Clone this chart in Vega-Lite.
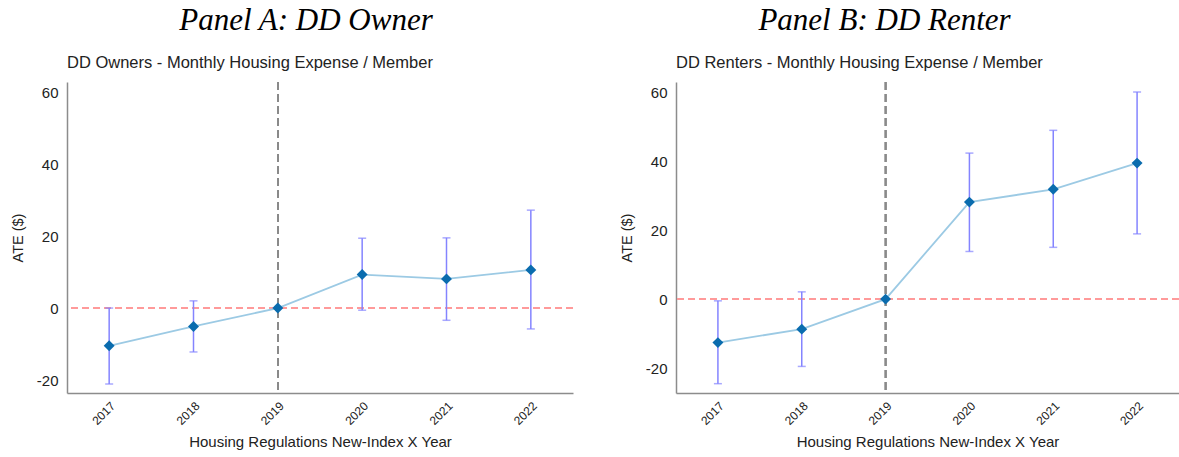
{
  "$schema": "https://vega.github.io/schema/vega-lite/v6.json",
  "background": "white",
  "padding": {"left": 10, "top": 4, "right": 0, "bottom": 0},
  "spacing": 45,
  "config": {
    "view": {"stroke": null},
    "font": "Liberation Sans",
    "axis": {"grid": false, "ticks": false, "tickSize": 0, "domainColor": "#8c8c8c", "domainWidth": 1.5, "labelColor": "#222", "titleColor": "#222", "titleFontWeight": "normal", "labelFont": "Liberation Sans", "titleFont": "Liberation Sans"}
  },
  "datasets": {
    "est": [
      {"panel": "A", "year": "2017", "ate": -10.5, "lo": -21.1, "hi": 0.0},
      {"panel": "A", "year": "2018", "ate": -5.1, "lo": -12.2, "hi": 2.0},
      {"panel": "A", "year": "2019", "ate": 0, "lo": null, "hi": null},
      {"panel": "A", "year": "2020", "ate": 9.3, "lo": -0.6, "hi": 19.4},
      {"panel": "A", "year": "2021", "ate": 8.1, "lo": -3.4, "hi": 19.5},
      {"panel": "A", "year": "2022", "ate": 10.6, "lo": -5.8, "hi": 27.2},
      {"panel": "B", "year": "2017", "ate": -12.6, "lo": -24.5, "hi": -0.5},
      {"panel": "B", "year": "2018", "ate": -8.7, "lo": -19.5, "hi": 2.1},
      {"panel": "B", "year": "2019", "ate": 0, "lo": null, "hi": null},
      {"panel": "B", "year": "2020", "ate": 28.1, "lo": 13.8, "hi": 42.3},
      {"panel": "B", "year": "2021", "ate": 31.8, "lo": 15.0, "hi": 48.9},
      {"panel": "B", "year": "2022", "ate": 39.4, "lo": 18.9, "hi": 60.0}
    ]
  },
  "data": {"name": "est"},
  "hconcat": [
    {
      "title": {"text": "Panel A: DD Owner", "font": "Liberation Serif", "fontStyle": "italic", "fontWeight": "normal", "fontSize": 31, "color": "#000", "anchor": "middle", "offset": 18, "dx": 14},
      "vconcat": [
        {
          "title": {"text": "DD Owners - Monthly Housing Expense / Member", "anchor": "start", "frame": "group", "fontSize": 16.5, "fontWeight": "normal", "color": "#222", "offset": 10},
          "width": 506,
          "height": 311,
          "transform": [{"filter": "datum.panel == 'A'"}],
          "layer": [
            {"mark": {"type": "rule", "color": "#8a8a8a", "strokeWidth": 1.5, "strokeDash": [8, 4]}, "encoding": {"x": {"datum": "2019", "type": "ordinal", "scale": {"type": "point", "padding": 0.5}, "axis": {"title": "Housing Regulations New-Index X Year", "labelAngle": -45, "labelFontSize": 12, "labelPadding": 7, "titleFontSize": 15, "titlePadding": 8}}}},
            {"mark": {"type": "rule", "color": "#ff9a9a", "strokeWidth": 1.5, "strokeDash": [7, 4]}, "encoding": {"y": {"datum": 0, "type": "quantitative"}}},
            {"mark": {"type": "rule", "color": "#8484ff", "strokeWidth": 1.5}, "encoding": {"x": {"field": "year", "type": "ordinal"}, "y": {"field": "lo", "type": "quantitative"}, "y2": {"field": "hi"}}},
            {"mark": {"type": "tick", "color": "#8484ff", "size": 8, "thickness": 1.5}, "encoding": {"x": {"field": "year", "type": "ordinal"}, "y": {"field": "lo", "type": "quantitative"}}},
            {"mark": {"type": "tick", "color": "#8484ff", "size": 8, "thickness": 1.5}, "encoding": {"x": {"field": "year", "type": "ordinal"}, "y": {"field": "hi", "type": "quantitative"}}},
            {"mark": {"type": "line", "color": "#9ccae4", "strokeWidth": 1.8}, "encoding": {"x": {"field": "year", "type": "ordinal"}, "y": {"field": "ate", "type": "quantitative"}}},
            {"mark": {"type": "point", "shape": "diamond", "filled": true, "color": "#0a6cae", "opacity": 1, "size": 120}, "encoding": {"x": {"field": "year", "type": "ordinal"}, "y": {"field": "ate", "type": "quantitative", "scale": {"domain": [-23.6, 62.8], "nice": false, "zero": false}, "axis": {"title": "ATE ($)", "values": [-20, 0, 20, 40, 60], "labelExpr": "'' + datum.value", "labelFontSize": 15, "labelPadding": 9, "titleFontSize": 14.5, "titlePadding": 11}}}}
          ]
        }
      ]
    },
    {
      "title": {"text": "Panel B: DD Renter", "font": "Liberation Serif", "fontStyle": "italic", "fontWeight": "normal", "fontSize": 31, "color": "#000", "anchor": "middle", "offset": 18, "dx": -15},
      "vconcat": [
        {
          "title": {"text": "DD Renters - Monthly Housing Expense / Member", "anchor": "start", "frame": "group", "fontSize": 16.5, "fontWeight": "normal", "color": "#222", "offset": 10},
          "width": 503,
          "height": 311,
          "transform": [{"filter": "datum.panel == 'B'"}],
          "layer": [
            {"mark": {"type": "rule", "color": "#8a8a8a", "strokeWidth": 1.5, "strokeDash": [8, 4]}, "encoding": {"x": {"datum": "2019", "type": "ordinal", "scale": {"type": "point", "padding": 0.5}, "axis": {"title": "Housing Regulations New-Index X Year", "labelAngle": -45, "labelFontSize": 12, "labelPadding": 7, "titleFontSize": 15, "titlePadding": 8}}}},
            {"mark": {"type": "rule", "color": "#ff9a9a", "strokeWidth": 1.5, "strokeDash": [7, 4]}, "encoding": {"y": {"datum": 0, "type": "quantitative"}}},
            {"mark": {"type": "rule", "color": "#8484ff", "strokeWidth": 1.5}, "encoding": {"x": {"field": "year", "type": "ordinal"}, "y": {"field": "lo", "type": "quantitative"}, "y2": {"field": "hi"}}},
            {"mark": {"type": "tick", "color": "#8484ff", "size": 8, "thickness": 1.5}, "encoding": {"x": {"field": "year", "type": "ordinal"}, "y": {"field": "lo", "type": "quantitative"}}},
            {"mark": {"type": "tick", "color": "#8484ff", "size": 8, "thickness": 1.5}, "encoding": {"x": {"field": "year", "type": "ordinal"}, "y": {"field": "hi", "type": "quantitative"}}},
            {"mark": {"type": "line", "color": "#9ccae4", "strokeWidth": 1.8}, "encoding": {"x": {"field": "year", "type": "ordinal"}, "y": {"field": "ate", "type": "quantitative"}}},
            {"mark": {"type": "point", "shape": "diamond", "filled": true, "color": "#0a6cae", "opacity": 1, "size": 120}, "encoding": {"x": {"field": "year", "type": "ordinal"}, "y": {"field": "ate", "type": "quantitative", "scale": {"domain": [-27.2, 62.9], "nice": false, "zero": false}, "axis": {"title": "ATE ($)", "values": [-20, 0, 20, 40, 60], "labelExpr": "'' + datum.value", "labelFontSize": 15, "labelPadding": 9, "titleFontSize": 14.5, "titlePadding": 11}}}}
          ]
        }
      ]
    }
  ]
}
